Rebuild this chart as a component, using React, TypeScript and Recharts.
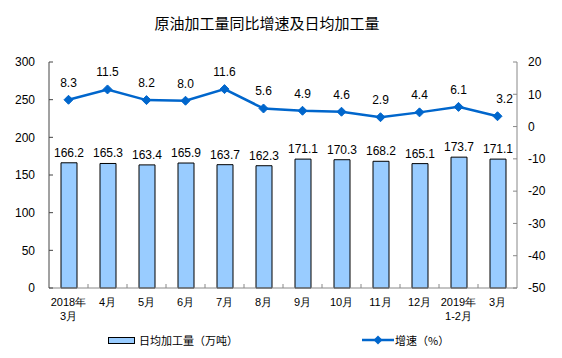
import React from 'react';
import { ComposedChart, Bar, Line, XAxis, YAxis, LabelList } from 'recharts';

const categories = ['2018年\n3月', '4月', '5月', '6月', '7月', '8月', '9月', '10月', '11月', '12月', '2019年\n1-2月', '3月'];
const dailyOutput = [166.2, 165.3, 163.4, 165.9, 163.7, 162.3, 171.1, 170.3, 168.2, 165.1, 173.7, 171.1];
const growth = [8.3, 11.5, 8.2, 8.0, 11.6, 5.6, 4.9, 4.6, 2.9, 4.4, 6.1, 3.2];
const leftTicks = [0, 50, 100, 150, 200, 250, 300];
const rightTicks = [-50, -40, -30, -20, -10, 0, 10, 20];

const NUM_FONT = '"Liberation Sans", Arial, sans-serif';
const CJK_FONT = '"Noto Sans CJK SC", sans-serif';
const BAR_FILL = '#99CCFF';
const LINE_COLOR = '#0066CC';

const chartData = categories.map((name, i) => ({
  name,
  output: dailyOutput[i],
  growth: growth[i],
}));

// category label, two lines where needed, plus the small inner tick at the band edge
const CategoryTick = (props: any) => {
  const { x, y, payload, index } = props;
  const lines = String(payload.value).split('\n');
  return (
    <g>
      {index < categories.length - 1 && (
        <line x1={x + 19.5} x2={x + 19.5} y1={288} y2={284} stroke="#888" />
      )}
      {lines.map((t, i) => (
        <text
          key={i}
          x={x}
          y={y + 16 + i * 14}
          textAnchor="middle"
          fontSize={11}
          fontFamily={NUM_FONT}
          fill="#000"
        >
          {t}
        </text>
      ))}
    </g>
  );
};

const Diamond = (props: any) => {
  const { cx, cy } = props;
  if (cx == null || cy == null) return null;
  const r = 4.5;
  return (
    <path
      d={`M${cx},${cy - r}L${cx + r},${cy}L${cx},${cy + r}L${cx - r},${cy}Z`}
      fill={LINE_COLOR}
      stroke={LINE_COLOR}
    />
  );
};

const GrowthLabel = (props: any) => {
  const { x, y, value, index } = props;
  const dx = index === growth.length - 1 ? 7 : 0;
  return (
    <text
      x={x + dx}
      y={y - 13}
      textAnchor="middle"
      fontSize={12}
      fontFamily={NUM_FONT}
      fill="#000"
    >
      {Number(value).toFixed(1)}
    </text>
  );
};

const App = () => {
  return (
    <div style={{ position: 'absolute', left: 0, top: 0, width: 562, height: 358, background: '#fff' }}>
      <div
        style={{
          position: 'absolute',
          left: 0,
          width: 534,
          top: 13,
          textAlign: 'center',
          fontFamily: CJK_FONT,
          fontSize: 15,
          color: '#000',
          lineHeight: '20px',
        }}
      >
        原油加工量同比增速及日均加工量
      </div>
      <ComposedChart
        width={562}
        height={358}
        data={chartData}
        margin={{ top: 62, right: 0, bottom: 40, left: 0 }}
      >
        <XAxis
          dataKey="name"
          height={30}
          interval={0}
          tickLine={false}
          tickSize={0}
          tick={<CategoryTick />}
          axisLine={{ stroke: '#888' }}
        />
        <YAxis
          yAxisId="left"
          width={49}
          domain={[0, 300]}
          ticks={leftTicks}
          tickSize={-4}
          tickMargin={18}
          tickLine={{ stroke: '#444' }}
          axisLine={{ stroke: '#444' }}
          tick={{ fontSize: 12, fill: '#000', fontFamily: NUM_FONT }}
        />
        <YAxis
          yAxisId="right"
          orientation="right"
          width={45}
          domain={[-50, 20]}
          ticks={rightTicks}
          tickSize={-4}
          tickMargin={15}
          tickLine={{ stroke: '#888' }}
          axisLine={{ stroke: '#888' }}
          tick={{ fontSize: 12, fill: '#000', fontFamily: NUM_FONT, textAnchor: 'start' }}
        />
        <Bar
          yAxisId="left"
          dataKey="output"
          barSize={16}
          fill={BAR_FILL}
          stroke="#000"
          strokeWidth={1}
          isAnimationActive={false}
        >
          <LabelList
            dataKey="output"
            position="top"
            offset={6}
            fontSize={12}
            fontFamily={NUM_FONT}
            fill="#000"
            formatter={(v: any) => Number(v).toFixed(1)}
          />
        </Bar>
        <Line
          yAxisId="right"
          dataKey="growth"
          stroke={LINE_COLOR}
          strokeWidth={2.5}
          dot={<Diamond />}
          activeDot={false}
          isAnimationActive={false}
        >
          <LabelList dataKey="growth" content={<GrowthLabel />} />
        </Line>
      </ComposedChart>
      <div style={{ position: 'absolute', left: 108, top: 337, width: 25, height: 5, background: BAR_FILL, border: '1px solid #000' }} />
      <div style={{ position: 'absolute', left: 139, top: 331, fontFamily: CJK_FONT, fontSize: 11, lineHeight: '18px', color: '#000' }}>
        日均加工量（万吨）
      </div>
      <svg style={{ position: 'absolute', left: 362, top: 334 }} width={32} height={12}>
        <line x1={0} x2={32} y1={6} y2={6} stroke={LINE_COLOR} strokeWidth={2.5} />
        <path d="M16,1.5L20.5,6L16,10.5L11.5,6Z" fill={LINE_COLOR} />
      </svg>
      <div style={{ position: 'absolute', left: 395, top: 331, fontFamily: CJK_FONT, fontSize: 11, lineHeight: '18px', color: '#000' }}>
        增速（%）
      </div>
    </div>
  );
};

export default App;
